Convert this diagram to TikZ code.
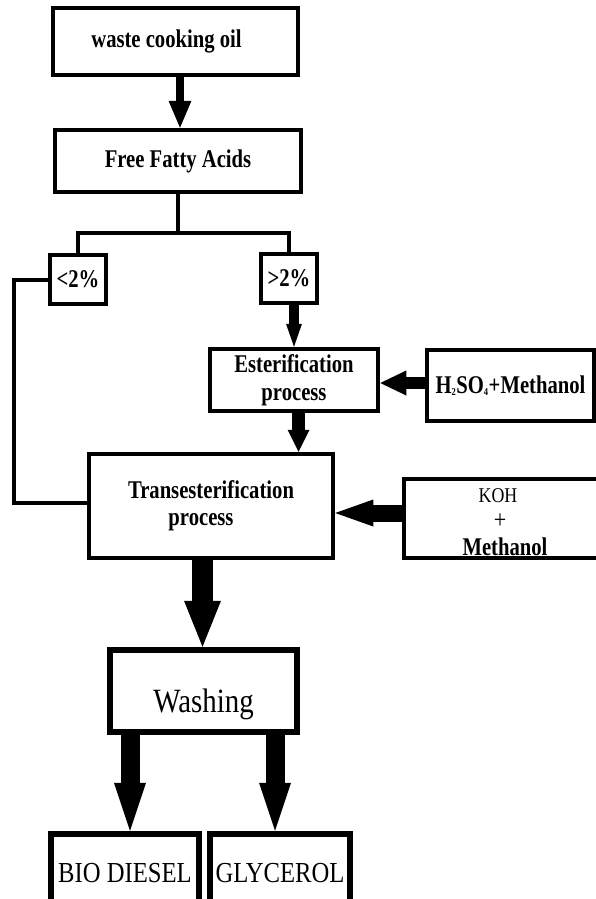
\documentclass[tikz,border=0pt]{standalone}
\usepackage{fontspec}
\setmainfont{Liberation Serif}[FakeStretch=0.85, BoldFeatures={FakeStretch=0.81}]
\usetikzlibrary{arrows.meta}
\tikzset{
  box/.style={draw, line width=4.5pt, inner sep=0pt, align=center,
    font=\bfseries\fontsize{25.5}{28}\selectfont},
  thickbox/.style={box, line width=6.5pt},
  conn/.style={line width=4pt},
  blk/.style n args={3}{line width=#1,
    -{Triangle[width=#2,length=#3,line width=0pt]}},
  txt/.style={inner sep=0pt, anchor=base}
}
\begin{document}
\begin{tikzpicture}[x=1pt,y=-1pt]
\useasboundingbox (0,0) rectangle (596,899);
\clip (0,0) rectangle (596,899);
% boxes
\node[box, minimum width=245pt, minimum height=67pt] (b1) at (175.5,41.5) {waste cooking oil\hspace*{18pt}};
\node[box, minimum width=246pt, minimum height=62pt] (b2) at (178,161) {Free Fatty Acids};
\node[box, minimum width=56pt, minimum height=49pt] (lt) at (78,279.5) {<2\%};
\node[box, minimum width=56pt, minimum height=49pt] (gt) at (289,278.5) {>2\%};
\node[box, minimum width=168pt, minimum height=62pt] (est) at (294,380) {Esterification\\process};
\node[box, minimum width=167pt, minimum height=71pt] (h2) at (510.5,385.5) {H{\fontsize{15}{15}\selectfont\textsubscript{2}}SO{\fontsize{15}{15}\selectfont\textsubscript{4}}+Methanol};
\node[box, minimum width=244pt, minimum height=104pt, font=\bfseries\fontsize{25.5}{27}\selectfont] (trans) at (211,506) {Transesterification\\process\hspace*{20pt}};
\node[box, minimum width=196pt, minimum height=79pt] (koh) at (502,518.5) {};
\node[txt, font=\fontsize{21}{24}\selectfont] (kohA) at (498,502) {KOH};
\node[txt, font=\fontsize{26}{26}\selectfont] (kohB) at (500,528) {+};
\node[txt, font=\bfseries\fontsize{25.5}{28}\selectfont] (kohC) at (505,555) {Methanol};
\node[thickbox, minimum width=187pt, minimum height=82pt, text height=42pt, text depth=0pt,
      font=\fontsize{34}{36}\selectfont] (wash) at (203.5,691) {Washing};
\node[thickbox, minimum width=148pt, minimum height=86pt, text height=10pt, text depth=0pt,
      font=\fontsize{29}{30}\selectfont] (bio) at (125,877) {BIO DIESEL};
\node[thickbox, minimum width=140pt, minimum height=86pt, text height=10pt, text depth=0pt,
      font=\fontsize{29}{30}\selectfont] (gly) at (280,877) {GLYCEROL};
% helper coordinates
\coordinate (j) at (178,233);
\coordinate (lp) at (14,503);
\coordinate (ya) at (0,383);
\coordinate (yb) at (0,513);
\coordinate (xc) at (130,0);
\coordinate (xd) at (275,0);
% plain connectors
\draw[conn] (b2.south) -- (j);
\draw[conn] (lt.north) |- (j) -| (gt.north);
\draw[conn] (lt.west) -| (lp) -- (lp -| trans.west);
% block arrows
\draw[blk={8pt}{23pt}{27pt}] ([xshift=4.5pt]b1.south) -- ([xshift=2pt]b2.north);
\draw[blk={10pt}{16pt}{23pt}] ([xshift=5pt]gt.south) -- (est.north);
\draw[blk={13pt}{22pt}{22pt}] ([xshift=4.5pt]est.south) -- ([xshift=87.5pt]trans.north);
\draw[blk={12pt}{25pt}{26pt}] (h2.west |- ya) -- (est.east |- ya);
\draw[blk={17pt}{27pt}{38pt}] (koh.west |- yb) -- (trans.east |- yb);
\draw[blk={21pt}{37pt}{46pt}] ([xshift=-8.5pt]trans.south) -- ([xshift=-1pt]wash.north);
\draw[blk={19pt}{32pt}{48pt}] (wash.south -| xc) -- (bio.north -| xc);
\draw[blk={19pt}{32pt}{48pt}] (wash.south -| xd) -- (gly.north -| xd);
\end{tikzpicture}
\end{document}
